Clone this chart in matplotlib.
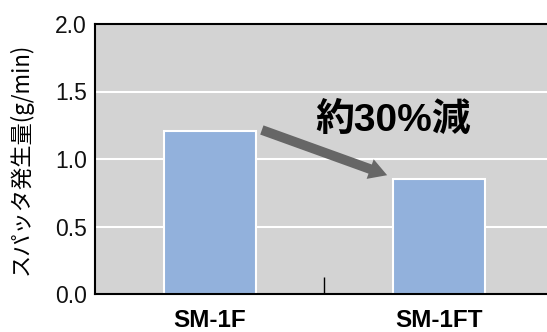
import matplotlib
matplotlib.use("Agg")
import matplotlib.pyplot as plt
from matplotlib.ticker import FixedLocator

categories = ["SM-1F", "SM-1FT"]
values = [1.21, 0.85]
yticks = [0.0, 0.5, 1.0, 1.5, 2.0]
ylabel = "スパッタ発生量(g/min)"
note = "約30%減"

plt.rcParams['font.family'] = ['Liberation Sans', 'Noto Sans CJK JP', 'DejaVu Sans']

W, H = 547, 332
fig = plt.figure(figsize=(W/100, H/100), dpi=100)
ax = fig.add_axes([95/W, (H-294)/H, (554-95)/W, (294-24)/H])
ax.set_facecolor('#d3d3d3')
ax.set_xlim(-0.5, 1.5)
ax.set_ylim(0, 2.0)

for y in yticks[1:-1]:
    ax.axhline(y, color='white', lw=1.5, zorder=1)

x = list(range(len(categories)))
ax.bar(x, values, width=0.40, color='#92b1dc', edgecolor='white', linewidth=1.5, zorder=2)

ax.set_yticks(yticks)
ax.set_yticklabels([f"{v:.1f}" for v in yticks], fontsize=16.5, color='#111111')
ax.tick_params(axis='y', length=0, pad=6)

ax.set_xticks(x)
ax.set_xticklabels(categories, fontsize=17.5, fontweight='bold')
ax.tick_params(axis='x', length=0, pad=11)
ax.xaxis.set_minor_locator(FixedLocator([0.5]))
ax.tick_params(axis='x', which='minor', direction='in', length=12, width=1, color='black')

for s in ['left', 'bottom', 'top']:
    ax.spines[s].set_linewidth(1.5)
    ax.spines[s].set_color('black')
ax.spines['right'].set_visible(False)

ax.set_ylabel(ylabel, fontsize=16, family=['Noto Sans CJK JP', 'DejaVu Sans'], labelpad=16)

ax.annotate('', xy=(0.773, values[1] + 0.03), xytext=(0.227, values[0] + 0.005),
            arrowprops=dict(arrowstyle='simple,head_width=1.5,head_length=1.3,tail_width=0.7',
                            color='#666666', lw=0, shrinkA=0, shrinkB=0), zorder=3)
ax.text(0.80, 1.28, note, fontsize=28, fontweight='bold', ha='center', va='center',
        family=['Liberation Sans', 'Noto Sans CJK JP', 'DejaVu Sans'], zorder=4)

fig.savefig('out.png', dpi=100)
